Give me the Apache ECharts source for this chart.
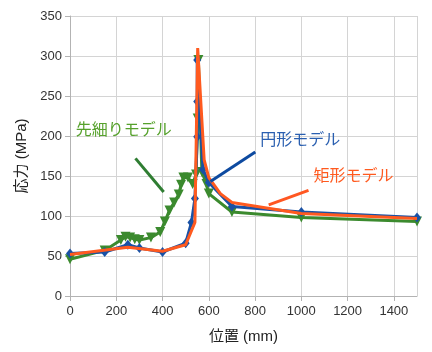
<!DOCTYPE html>
<html>
<head>
<meta charset="utf-8">
<script src="https://cdn.jsdelivr.net/npm/echarts@6/dist/echarts.min.js"></script>
<style>
  html, body { margin: 0; padding: 0; background: #fff; }
  #chart { width: 432px; height: 352px; }
</style>
</head>
<body>
<div id="chart"></div>
<script>
// 円形モデル
const roundX = [0, 150, 250, 300, 400, 500, 525, 540, 550, 550, 550, 575, 600, 700, 1000, 1500];
const roundY = [53, 55, 64, 60, 55, 66, 92, 122, 199, 243, 295, 158, 142, 112, 105, 98];
// 矩形モデル
const rectX = [0, 250, 400, 500, 540, 552, 580, 600, 650, 700, 1000, 1500];
const rectY = [52, 61, 56, 64, 92, 310, 170, 148, 128, 117, 103, 97];
// 先細りモデル
const taperX = [0, 150, 220, 240, 260, 280, 300, 350, 390, 410, 430, 450, 470, 480, 490, 510, 530, 545, 552, 555, 570, 590, 600, 700, 1000, 1500];
const taperY = [46, 57, 70, 74, 73, 71, 70, 73, 80, 93, 107, 117, 127, 139, 148, 148, 140, 152, 222, 295, 155, 140, 128, 105, 98, 93];

const seriesNames = ["先細りモデル", "円形モデル", "矩形モデル"];
const xName = "位置 (mm)";
const yName = "応力 (MPa)";

function pairs(xs, ys) {
  return xs.map(function(x, i) { return [x, ys[i]]; });
}

const font = "Liberation Sans, Noto Sans CJK JP, sans-serif";

// 注記（データ座標）
function note(text, at, from, to, textColor, lineColor) {
  return {
    markLine: {
      silent: true,
      symbol: "none",
      animation: false,
      label: { show: false },
      lineStyle: { color: lineColor, width: 3, type: "solid" },
      data: [[{ coord: from }, { coord: to }]]
    },
    markPoint: {
      silent: true,
      symbol: "circle",
      symbolSize: 0,
      animation: false,
      label: {
        show: true,
        position: "inside",
        formatter: text,
        color: textColor,
        fontSize: 16,
        fontFamily: font
      },
      data: [{ coord: at }]
    }
  };
}

const taperNote = note(seriesNames[0], [232, 207], [283, 172], [405, 130], "#56a12c", "#2f7d32");
const roundNote = note(seriesNames[1], [995, 194], [801, 180], [607, 143], "#2a5fb0", "#0d4aa0");
const rectNote = note(seriesNames[2], [1225, 149], [1031, 132], [859, 114], "#ff5a1f", "#ff5722");

let myChart = echarts.init(document.getElementById("chart"));
let option = {
  animation: false,
  grid: { left: 70, right: 15, top: 16, bottom: 56 },
  xAxis: {
    type: "value",
    min: 0,
    max: 1500,
    interval: 200,
    name: xName,
    nameLocation: "middle",
    nameGap: 33,
    nameTextStyle: { fontSize: 15, color: "#222", fontFamily: font },
    axisLine: { show: true, lineStyle: { color: "#b3b3b3" } },
    axisTick: { show: true, length: 5, lineStyle: { color: "#b3b3b3" } },
    axisLabel: {
      showMaxLabel: false,
      fontSize: 13,
      color: "#333",
      margin: 9,
      fontFamily: font,
      formatter: function(v) { return String(v); }
    },
    splitLine: { show: true, lineStyle: { color: "#d4d4d4" } }
  },
  yAxis: {
    type: "value",
    min: 0,
    max: 350,
    interval: 50,
    name: yName,
    nameLocation: "middle",
    nameGap: 40,
    nameTextStyle: { fontSize: 15, color: "#222", fontFamily: font },
    axisLine: { show: true, lineStyle: { color: "#b3b3b3" } },
    axisTick: { show: true, length: 5, lineStyle: { color: "#b3b3b3" } },
    axisLabel: { fontSize: 13, color: "#333", margin: 8, fontFamily: font },
    splitLine: { show: true, lineStyle: { color: "#d4d4d4" } }
  },
  series: [
    Object.assign({
      name: seriesNames[0],
      type: "line",
      data: pairs(taperX, taperY),
      symbol: "triangle",
      symbolRotate: 180,
      symbolSize: 10,
      showAllSymbol: true,
      lineStyle: { color: "#3b8a2e", width: 3 },
      itemStyle: { color: "#3b8a2e" },
      z: 2
    }, taperNote),
    Object.assign({
      name: seriesNames[1],
      type: "line",
      data: pairs(roundX, roundY),
      symbol: "diamond",
      symbolSize: [8, 10],
      showAllSymbol: true,
      lineStyle: { color: "#1951a5", width: 3 },
      itemStyle: { color: "#1951a5" },
      z: 3
    }, roundNote),
    Object.assign({
      name: seriesNames[2],
      type: "line",
      data: pairs(rectX, rectY),
      symbol: "none",
      lineStyle: { color: "#ff5a1f", width: 3 },
      itemStyle: { color: "#ff5a1f" },
      z: 4
    }, rectNote)
  ]
};
myChart.setOption(option);
</script>
</body>
</html>
